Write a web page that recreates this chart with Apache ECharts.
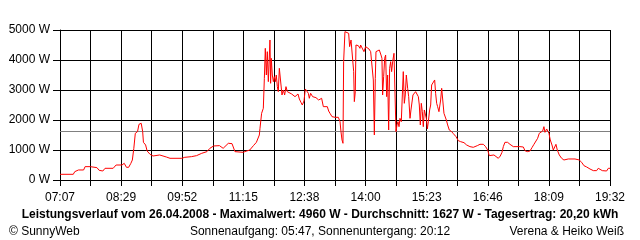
<!DOCTYPE html>
<html>
<head>
<meta charset="utf-8">
<script src="https://cdn.jsdelivr.net/npm/echarts@6/dist/echarts.min.js"></script>
<style>html,body{margin:0;padding:0;background:#fff}#c{width:640px;height:240px}</style>
</head>
<body>
<div id="c"></div>
<script>
// minutes after 07:07
const minutes = [0,18,20,25,32,34,41,43,50,53,58,61,72,76,84,87,90,93,96,98,100,102,105,107,110,112,113,116,118,122,126,135,144,149,165,169,178,185,192,199,203,208,216,221,228,233,237,248,253,257,262,266,270,
270.9,273.1,275.4,276.8,278.1,279.5,280.8,282.2,283.1,284.4,285.3,286.2,287.6,289,290.3,291.7,293,294.4,295.7,297.1,299.3,300.7,302.5,304.3,306.1,307.9,309.7,313.8,316,318.3,320.6,322.4,324.2,326.4,328.2,330.5,332.3,334.6,336.4,337.7,339.5,342.2,346.7,350.4,352.2,354.4,356.7,359.4,362.1,363.9,365.7,368.4,372.5,377,379.3,380.6,382,383.3,384.2,386,388.3,391,392.3,394.2,396.4,397.8,398.7,400,400.9,404.1,406.3,407.2,409.5,411.7,414,416.3,418.5,420.8,422.6,424.4,425.8,427.1,428,430.3,432.5,434.8,436.1,437,438.4,439.8,441.1,442.5,443.8,445.2,446.5,447.9,449.2,450.6,452.4,454.2,455.1,456.5,457.8,459.2,460.5,462.3,463.7,465,466.4,467.7,469.1,470.9,472.3,474.1,475.4,476.8,478.1,479.9,481.7,484,485.4,486.7,488.1,489.4,490.8,492.1,493.5,494.8,496.2,497.6,498.9,500.7,502.1,503.4,505.7,507.5,508.8,510.2,511.5,513.3,
515.6,517,519.2,520.1,521.9,523.3,525.1,527.3,530.5,532.8,536.4,539.5,542.7,547.2,550.8,555.3,559.8,562.5,565.3,568.9,573.4,576.5,579.3,581.5,583.8,587.8,590.5,593.7,596.4,598.7,600.5,602.7,606.3,609.5,614,623,627.6,629.8,633,636.6,639.3,642,644.7,647,649.2,651.9,653.8,655.5,656.9,659.2,661,662.3,664.1,666.4,668.2,670.5,671.8,673.6,676.3,679.5,682.6,688.5,697.6,703.4,706.6,709.7,713.4,717.9,722.4,726.9,729.1,731.4,734.6,740.4,742.7,745];
const watts = [190,190,278,334,334,445,445,390,412,323,300,390,390,500,500,556,423,423,556,667,1056,1556,1612,1856,1890,1612,1256,1167,967,856,800,834,767,723,723,756,778,812,890,945,1056,1134,1145,1056,1223,1212,945,923,967,1000,1145,1256,1500,
1723,2223,2390,3389,4389,3500,4278,3278,3834,4667,3223,4056,3500,3278,3445,3278,3500,3112,2945,3723,3723,2834,3000,2834,3112,2945,2890,2867,2812,2778,2834,2867,2700,2590,2500,2634,3034,3056,2890,2723,2890,2778,2745,2667,2700,2723,2445,2500,2445,2300,2223,2112,2090,2090,1945,1612,1334,1223,3945,4945,4889,4889,4445,4667,4612,3612,2612,2945,4500,4478,4389,4500,4445,4278,4445,4500,4367,4278,4223,3334,1501,3389,4278,4256,4334,4167,4056,2834,3445,4056,4167,2778,3500,1667,3723,3945,3612,3945,4223,4223,1612,1834,1945,1778,2056,1945,2834,3612,2556,2834,3500,3056,2778,2056,2334,2390,2834,2890,2945,2945,2778,2500,1834,2556,2278,1778,2334,2334,2056,1701,1945,2334,2500,3167,3223,3334,2890,2556,2445,2278,
2667,3056,3056,2223,2167,2000,1834,1667,1612,1545,1445,1312,1278,1245,1167,1112,1090,1056,1145,1190,1190,1112,1000,812,834,834,778,723,800,923,1112,1256,1256,1190,1112,1112,1100,978,945,967,1078,1190,1245,1390,1556,1590,1634,1778,1590,1701,1667,1556,1334,1167,1000,1000,1190,1000,834,723,667,701,701,667,590,478,434,367,312,312,390,367,312,300,390,390];
const timeLabels = ['07:07','08:29','09:52','11:15','12:38','14:00','15:23','16:46','18:09','19:32'];
const average = 1627;
const titleText = 'Leistungsverlauf vom 26.04.2008 - Maximalwert: 4960 W - Durchschnitt: 1627 W - Tagesertrag: 20,20 kWh';
const sunText = 'Sonnenaufgang: 05:47, Sonnenuntergang: 20:12';

const span = 745, steps = 18, step = span / steps;
const font = "'Liberation Sans Narrow','Liberation Sans',Arial,sans-serif";
const chart = echarts.init(document.getElementById('c'), null, {renderer: 'canvas'});
chart.setOption({
  backgroundColor: '#fff',
  animation: false,
  grid: {left: 60, right: 30, top: 30, bottom: 60, containLabel: false},
  title: [
    {text: titleText, left: 'center', top: 204, textStyle: {fontFamily: "'Liberation Sans',Arial,sans-serif", fontSize: 12, fontWeight: 'bold', color: '#000'}},
    {text: '© SunnyWeb', left: 4, top: 221, textStyle: {fontFamily: font, fontSize: 12, fontWeight: 'normal', color: '#000'}},
    {text: sunText, left: 'center', top: 221, textStyle: {fontFamily: font, fontSize: 12, fontWeight: 'normal', color: '#000'}},
    {text: 'Verena & Heiko Weiß', right: 11, top: 221, textStyle: {fontFamily: font, fontSize: 12, fontWeight: 'normal', color: '#000'}}
  ],
  xAxis: {
    type: 'value', min: 0, max: span, interval: step,
    axisLine: {show: true, lineStyle: {color: '#000', width: 1}},
    axisTick: {show: true, length: 6, lineStyle: {color: '#000'}},
    splitLine: {show: true, lineStyle: {color: '#000', width: 1}},
    axisLabel: {
      showMinLabel: true, showMaxLabel: true, margin: 12, color: '#000', fontFamily: font, fontSize: 12,
      formatter: function (v) { const i = Math.round(v / step); return i % 2 ? '' : timeLabels[i / 2]; }
    }
  },
  yAxis: {
    type: 'value', min: 0, max: 5000, interval: 1000,
    axisLine: {show: true, lineStyle: {color: '#000', width: 1}},
    axisTick: {show: true, length: 7, lineStyle: {color: '#000'}},
    splitLine: {show: true, lineStyle: {color: '#000', width: 1}},
    axisLabel: {margin: 10, color: '#000', fontFamily: font, fontSize: 12, formatter: function (v) { return v + ' W'; }}
  },
  series: [{
    type: 'line',
    data: minutes.map((m, i) => [m, watts[i]]),
    showSymbol: false, symbol: 'none',
    lineStyle: {color: '#ff0000', width: 1},
    z: 5,
    markLine: {
      silent: true, symbol: 'none', label: {show: false},
      lineStyle: {color: '#808080', width: 1, type: 'solid'},
      data: [{yAxis: average}], z: 4
    }
  }]
});
</script>
</body>
</html>
